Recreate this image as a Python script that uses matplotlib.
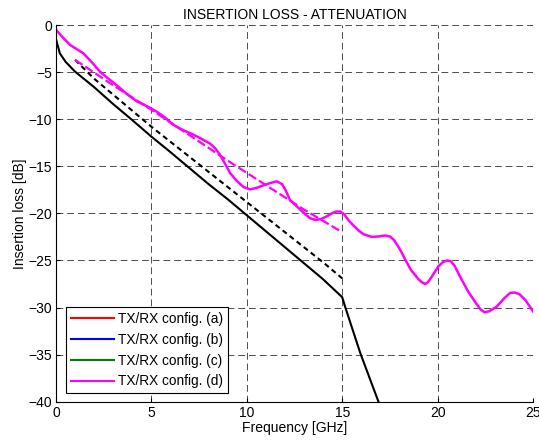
import matplotlib.pyplot as plt
from matplotlib.lines import Line2D

plt.rcParams['font.family'] = ['Liberation Sans', 'DejaVu Sans']

# Data
black_x = [0, 0.2, 0.5, 1, 2, 3, 4, 5, 6, 7, 8, 9, 10, 11, 12, 13, 14, 15, 15.15, 15.95, 16.9]
black_y = [-1.5, -3.0, -3.9, -4.95, -6.6, -8.4, -10.1, -11.85, -13.5, -15.2, -16.9, -18.5, -20.2,
           -21.9, -23.6, -25.3, -27.0, -28.9, -29.9, -34.85, -40.0]

black_dash_x = [1, 2, 3, 4, 5, 6, 7, 8, 9, 10, 11, 12, 13, 14, 15]
black_dash_y = [-3.7, -5.7, -7.4, -9.1, -10.8, -12.4, -14.0, -15.6, -17.2, -18.8, -20.4, -22.0,
                -23.6, -25.2, -26.9]

mag_dash_x = [1, 3, 5, 7, 9, 11, 13, 15]
mag_dash_y = [-3.7, -6.4, -9.0, -11.7, -14.4, -17.0, -19.6, -22.0]

mag_x = [0, 0.35, 0.73, 1.0, 1.43, 1.9, 2.3, 2.75, 3.18, 3.7, 4.23, 4.75, 5.28, 5.7, 6.15, 6.6,
         7.05, 7.55, 8.08, 8.35, 8.6, 8.85, 9.12, 9.45, 9.82, 10.17, 10.5, 10.9, 11.2, 11.57,
         11.85, 12.0, 12.27, 12.8, 13.3, 13.6, 13.9, 14.2, 14.5, 14.7, 14.9, 15.1, 15.4, 15.85,
         16.1, 16.55, 16.9, 17.25, 17.5, 17.7, 17.9, 18.1, 18.35, 18.6, 19.0, 19.2, 19.35, 19.5,
         19.7, 20.05, 20.3, 20.5, 20.7, 20.9, 21.2, 21.6, 22.0, 22.25, 22.45, 22.7, 23.1, 23.5,
         23.8, 24.05, 24.3, 24.6, 25.0]
mag_y = [-0.5, -1.3, -2.1, -2.45, -3.0, -4.0, -4.95, -5.7, -6.4, -7.3, -8.1, -8.6, -9.2, -9.8,
         -10.6, -11.1, -11.5, -12.0, -12.6, -13.1, -13.8, -14.7, -15.7, -16.5, -17.2, -17.45,
         -17.3, -17.0, -16.8, -16.6, -16.9, -17.4, -18.6, -19.6, -20.5, -20.7, -20.6, -20.3,
         -19.95, -19.8, -19.8, -20.1, -20.9, -21.8, -22.2, -22.5, -22.45, -22.35, -22.45,
         -22.8, -23.4, -24.1, -25.1, -26.0, -27.0, -27.35, -27.5, -27.3, -26.7, -25.6, -25.15,
         -25.0, -25.1, -25.6, -26.8, -28.3, -29.5, -30.2, -30.5, -30.4, -29.9, -29.0, -28.45,
         -28.4, -28.6, -29.2, -30.4]

labels = ["TX/RX config. (a)", "TX/RX config. (b)", "TX/RX config. (c)", "TX/RX config. (d)"]
colors = ["#ff0000", "#0000ff", "#008000", "#ff00ff"]

fig = plt.figure(figsize=(5.39, 4.47), dpi=100)
ax = fig.add_axes([0.1039, 0.1013, 0.885, 0.8427])

ax.plot(black_x, black_y, color="black", lw=1.5)
ax.plot(black_dash_x, black_dash_y, color="black", lw=1.5, linestyle=(0, (2.5, 1.8)))
ax.plot(mag_dash_x, mag_dash_y, color="#ff00ff", lw=1.6, linestyle=(0, (4, 1.5)))
ax.plot(mag_x, mag_y, color="#ff00ff", lw=1.8)

ax.set_xlim(0, 25)
ax.set_ylim(-40, 0)
ax.set_xticks([0, 5, 10, 15, 20, 25])
ax.set_yticks(range(-40, 1, 5))
ax.grid(True, color="0.3", lw=0.7, linestyle=(0, (7, 4)))
ax.tick_params(direction="in", labelsize=10, length=3, pad=3)
for s in ("top", "right"):
    ax.spines[s].set_visible(False)

ax.set_title("INSERTION LOSS - ATTENUATION", fontsize=10, pad=4)
ax.set_xlabel("Frequency [GHz]", fontsize=10, labelpad=1)
ax.set_ylabel("Insertion loss [dB]", fontsize=10, labelpad=1)

handles = [Line2D([], [], color=c, lw=1.5) for c in colors]
leg = ax.legend(handles, labels, loc="lower left", bbox_to_anchor=(0.012, 0.012), fontsize=9.8,
                fancybox=False, framealpha=1, edgecolor="black", handlelength=3.2,
                borderpad=0.35, labelspacing=0.5, handletextpad=0.3, borderaxespad=0.3)
leg.get_frame().set_linewidth(0.8)

fig.savefig("out.png", dpi=100)
